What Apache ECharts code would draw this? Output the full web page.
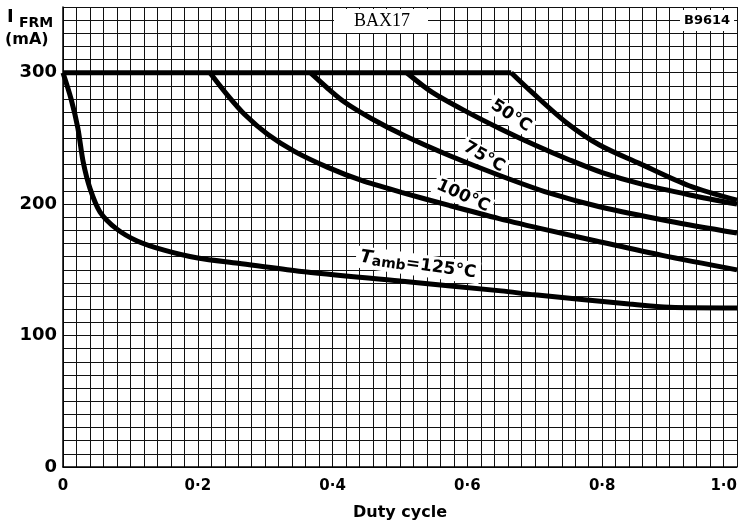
<!DOCTYPE html>
<html>
<head>
<meta charset="utf-8">
<script src="https://cdn.jsdelivr.net/npm/echarts@6/dist/echarts.min.js"></script>
<style>
html,body{margin:0;padding:0;background:#fff;}
#chart{width:740px;height:526px;}
</style>
</head>
<body>
<div id="chart"></div>
<script>
// flat 300 mA limit, shared by every curve up to its knee
var flatLine = [[0, 300], [0.665, 300]];
// Tamb = 125 C
var curve125 = [[0,300],[0.012,280],[0.022,258],[0.03,232],[0.04,212],[0.055,194],[0.08,181],[0.11,172],[0.15,165],[0.2,159],[0.26,155],[0.35,149],[0.5,141.5],[0.65,134],[0.7,131],[0.84,124],[0.9,121.5],[1.0,121]];
// 100 C
var curve100 = [[0.218,300],[0.244,283],[0.27,268],[0.304,253],[0.344,240],[0.393,228],[0.443,218],[0.502,209],[0.573,199],[0.647,189],[0.721,180],[0.791,172],[0.889,161],[1.0,150]];
// 75 C
var curve75 = [[0.367,300],[0.393,288],[0.418,277.5],[0.458,265],[0.507,252],[0.573,237],[0.647,222],[0.721,208.5],[0.796,198],[0.9,187],[1.0,178]];
// 50 C
var curve50 = [[0.51,300],[0.548,285],[0.6,270],[0.65,257],[0.7,245],[0.75,234],[0.8,224],[0.86,215],[0.93,207],[1.0,200]];
// knee at 0.67 (unlabelled)
var curveTop = [[0.665,300],[0.696,285],[0.747,262],[0.796,245],[0.855,231],[0.929,214],[1.0,203]];

var yLabels = [0, 100, 200, 300];
var xLabels = ['0', '0·2', '0·4', '0·6', '0·8', '1·0'];

var myChart = echarts.init(document.getElementById('chart'));
var gridLine = { show: true, lineStyle: { color: '#111', width: 1 } };
var txtFont = 'DejaVu Sans';

function curve(d) {
	return { type: 'line', data: d, showSymbol: false, smooth: 0.3,
		lineStyle: { color: '#000', width: 5 }, z: 5, silent: true };
}
// labels sit under the curves (z 1) so the white box only hides grid lines
function tempLabel(txt, x, y, rot) {
	return { type: 'text', x: x, y: y, rotation: rot, z: 1, style: { text: txt, font: 'bold 17px ' + txtFont, fill: '#000',
		align: 'center', verticalAlign: 'middle', backgroundColor: '#fff', padding: [1, 3, 1, 3] } };
}

var option = {
	animation: false,
	grid: { left: 63, right: 2, top: 7, bottom: 55 },
	xAxis: {
		type: 'value', min: 0, max: 1, interval: 0.02,
		axisLine: { show: true, onZero: false, lineStyle: { color: '#000', width: 1.5 } },
		axisTick: { show: false },
		splitLine: gridLine,
		axisLabel: {
			margin: 12, color: '#000', fontFamily: txtFont, fontWeight: 'bold', fontSize: 15,
			alignMaxLabel: 'right',
			formatter: function (v) {
				var k = Math.round(v * 100);
				if (k % 20 !== 0) return '';
				return xLabels[k / 20];
			}
		},
		name: 'Duty cycle', nameLocation: 'middle', nameGap: 38,
		nameTextStyle: { color: '#000', fontFamily: txtFont, fontWeight: 'bold', fontSize: 16 }
	},
	yAxis: {
		type: 'value', min: 0, max: 350, interval: 10,
		axisLine: { show: true, onZero: false, lineStyle: { color: '#000', width: 1.5 } },
		axisTick: { show: false },
		splitLine: gridLine,
		axisLabel: {
			margin: 6, color: '#000', fontFamily: txtFont, fontWeight: 'bold', fontSize: 18,
			formatter: function (v) {
				return yLabels.indexOf(v) >= 0 ? String(v) : '';
			}
		}
	},
	series: [curve(flatLine), curve(curve125), curve(curve100), curve(curve75), curve(curve50), curve(curveTop)],
	graphic: [
		// axis title
		{ type: 'text', left: 7, top: 8, z: 20, style: { text: 'I', font: 'bold 18px ' + txtFont, fill: '#000' } },
		{ type: 'text', left: 19, top: 16, z: 20, style: { text: 'FRM', font: 'bold 14px ' + txtFont, fill: '#000' } },
		{ type: 'text', left: 5, top: 32, z: 20, style: { text: '(mA)', font: 'bold 16px ' + txtFont, fill: '#000' } },
		// type box
		{ type: 'text', left: 334, top: 9, z: 20, style: { text: 'BAX17', font: '18px "Liberation Serif"', fill: '#000',
			backgroundColor: '#fff', padding: [3, 18, 3, 20] } },
		{ type: 'text', left: 680, top: 10, z: 20, style: { text: 'B9614', font: 'bold 13px ' + txtFont, fill: '#000',
			backgroundColor: '#fff', padding: [4, 4, 4, 4] } },
		// curve labels
		tempLabel('50°C', 511, 116, -0.58),
		tempLabel('75°C', 484, 157, -0.52),
		tempLabel('100°C', 463, 196, -0.42),
		{ type: 'text', x: 418, y: 265, rotation: -0.14, z: 1, style: {
			text: '{t|T}{s|amb}{n|=125°C}', fill: '#000', align: 'center', verticalAlign: 'middle',
			backgroundColor: '#fff', padding: [1, 4, 1, 4],
			rich: {
				t: { font: 'italic bold 18px ' + txtFont, fill: '#000' },
				s: { font: 'bold 14px ' + txtFont, fill: '#000', padding: [6, 0, 0, 0] },
				n: { font: 'bold 17px ' + txtFont, fill: '#000' }
			} } }
	]
};
myChart.setOption(option);
window.onresize = myChart.resize;
</script>
</body>
</html>
